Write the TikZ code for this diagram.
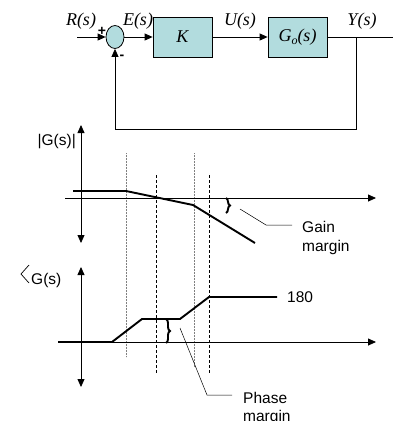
\documentclass[tikz,border=0pt]{standalone}
\usepackage{fontspec}
\setmainfont{Liberation Sans}
\newfontfamily\timesf{Liberation Serif}
\usetikzlibrary{arrows.meta,shapes.geometric,decorations.pathreplacing}
\definecolor{tealfill}{RGB}{178,220,222}
\begin{document}
\begin{tikzpicture}[x=1pt,y=-1pt,
  tip/.style={-{Triangle[length=8pt,width=7pt]}},
  bothtip/.style={{Triangle[length=8pt,width=7pt]}-{Triangle[length=8pt,width=7pt]}},
  sig/.style={line width=0.8pt},
  blk/.style={draw, line width=0.8pt, fill=tealfill, minimum width=59pt, minimum height=40pt, inner sep=0pt},
  lab/.style={font=\fontsize{18}{20}\selectfont\timesf\itshape, inner sep=0pt},
  txt/.style={font=\fontsize{15.5}{19}\selectfont, inner sep=0pt},
  sgn/.style={font=\fontsize{14}{14}\selectfont\bfseries, inner sep=0pt},
  curve/.style={line width=1.9pt},
  axis/.style={line width=0.8pt},
  guide/.style={gray, line width=0.4pt, dash pattern=on 0.6pt off 0.9pt},
  dashguide/.style={black, line width=0.6pt, dash pattern=on 3pt off 2pt},
  lead/.style={line width=0.5pt},
  bracestyle/.style={line width=1.9pt, decorate, decoration={brace, amplitude=4pt}}
]
\useasboundingbox (0,0) rectangle (394,421);

% ---------- block diagram ----------
\node[ellipse, draw, fill=tealfill, minimum width=18pt, minimum height=23pt, inner sep=0pt, line width=0.8pt] (sum) at (115,37) {};
\node[blk] (K) at (182.5,37) {\fontsize{18}{20}\selectfont\timesf\itshape K};
\node[blk] (G) at (297.5,37) {\fontsize{18}{20}\selectfont\timesf\itshape G\raisebox{-0.35ex}{\fontsize{12}{12}\selectfont o}(s)};
\coordinate (in) at (77,37);
\coordinate (out) at (393,37);
\coordinate (br) at (356,37);
\coordinate (fb1) at (356,129);
\coordinate (fb2) at (115,129);
\draw[sig,tip] (in) -- (sum.west);
\draw[sig,tip] (sum.east) -- (K.west);
\draw[sig,tip] (K.east) -- (G.west);
\draw[sig] (G.east) -- (out);
\draw[sig,tip] (br) -- (fb1) -- (fb2) -- (sum.south);
\node[lab] (lR) at (81,21) {R(s)};
\node[lab] (lE) at (138,21) {E(s)};
\node[lab] (lU) at (240,21) {U(s)};
\node[lab] (lY) at (362,21) {Y(s)};
\node[sgn] (plus) at (102,31) {+};
\node[sgn] (minus) at (122,57) {-};

% ---------- guide lines ----------
\coordinate (d1a) at (126,153); \coordinate (d1b) at (126,357);
\coordinate (d2a) at (194,153); \coordinate (d2b) at (194,367);
\coordinate (e1a) at (156,175); \coordinate (e1b) at (156,373);
\coordinate (e2a) at (209,175); \coordinate (e2b) at (209,373);
\draw[guide] (d1a) -- (d1b);
\draw[guide] (d2a) -- (d2b);
\draw[dashguide] (e1a) -- (e1b);
\draw[dashguide] (e2a) -- (e2b);

% ---------- magnitude plot ----------
\coordinate (mvt) at (81,125); \coordinate (mvb) at (81,243);
\coordinate (mhl) at (65,198); \coordinate (mhr) at (376,198);
\draw[axis,bothtip] (mvt) -- (mvb);
\draw[axis,tip] (mhl) -- (mhr);
\coordinate (m1) at (73,191); \coordinate (m2) at (126,191);
\coordinate (m3) at (193,205); \coordinate (m4) at (255,243);
\draw[curve] (m1) -- (m2) -- (m3) -- (m4);
\node[txt, anchor=base east] (lmag) at (76,145) {|G(s)|};
\coordinate (gb1) at (226,198); \coordinate (gb2) at (226,213);
\draw[bracestyle] (gb1) -- (gb2);
\coordinate (gl1) at (240,209); \coordinate (gl2) at (266,225); \coordinate (gl3) at (292,225);
\draw[lead] (gl1) -- (gl2) -- (gl3);
\node[txt, anchor=base west] (gain) at (302,232) {Gain};
\node[txt, anchor=base west] (gmar) at (302,251) {margin};

% ---------- phase plot ----------
\coordinate (pvt) at (81,267); \coordinate (pvb) at (81,387);
\coordinate (phl) at (58,342); \coordinate (phr) at (376,342);
\draw[axis,bothtip] (pvt) -- (pvb);
\draw[axis,tip] (phl) -- (phr);
\coordinate (p1) at (58,342); \coordinate (p2) at (112,342);
\coordinate (p3) at (142,319); \coordinate (p4) at (180,319);
\coordinate (p5) at (209,297); \coordinate (p6) at (277,297);
\draw[curve] (p1) -- (p2) -- (p3) -- (p4) -- (p5) -- (p6);
\node[txt, anchor=west] (l180) at (287,297) {180};
\coordinate (a1) at (29,265); \coordinate (a2) at (21,274); \coordinate (a3) at (29,283);
\draw[line width=0.7pt] (a1) -- (a2) -- (a3);
\node[txt, anchor=base west] (lph) at (31,284) {G(s)};
\coordinate (pb1) at (166,319); \coordinate (pb2) at (166,343);
\draw[bracestyle] (pb1) -- (pb2);
\coordinate (pl1) at (180,328); \coordinate (pl2) at (207,395); \coordinate (pl3) at (232,395);
\draw[lead] (pl1) -- (pl2) -- (pl3);
\node[txt, anchor=base west] (phase) at (243,403) {Phase};
\node[txt, anchor=base west] (pmar) at (243,421) {margin};
\end{tikzpicture}
\end{document}
